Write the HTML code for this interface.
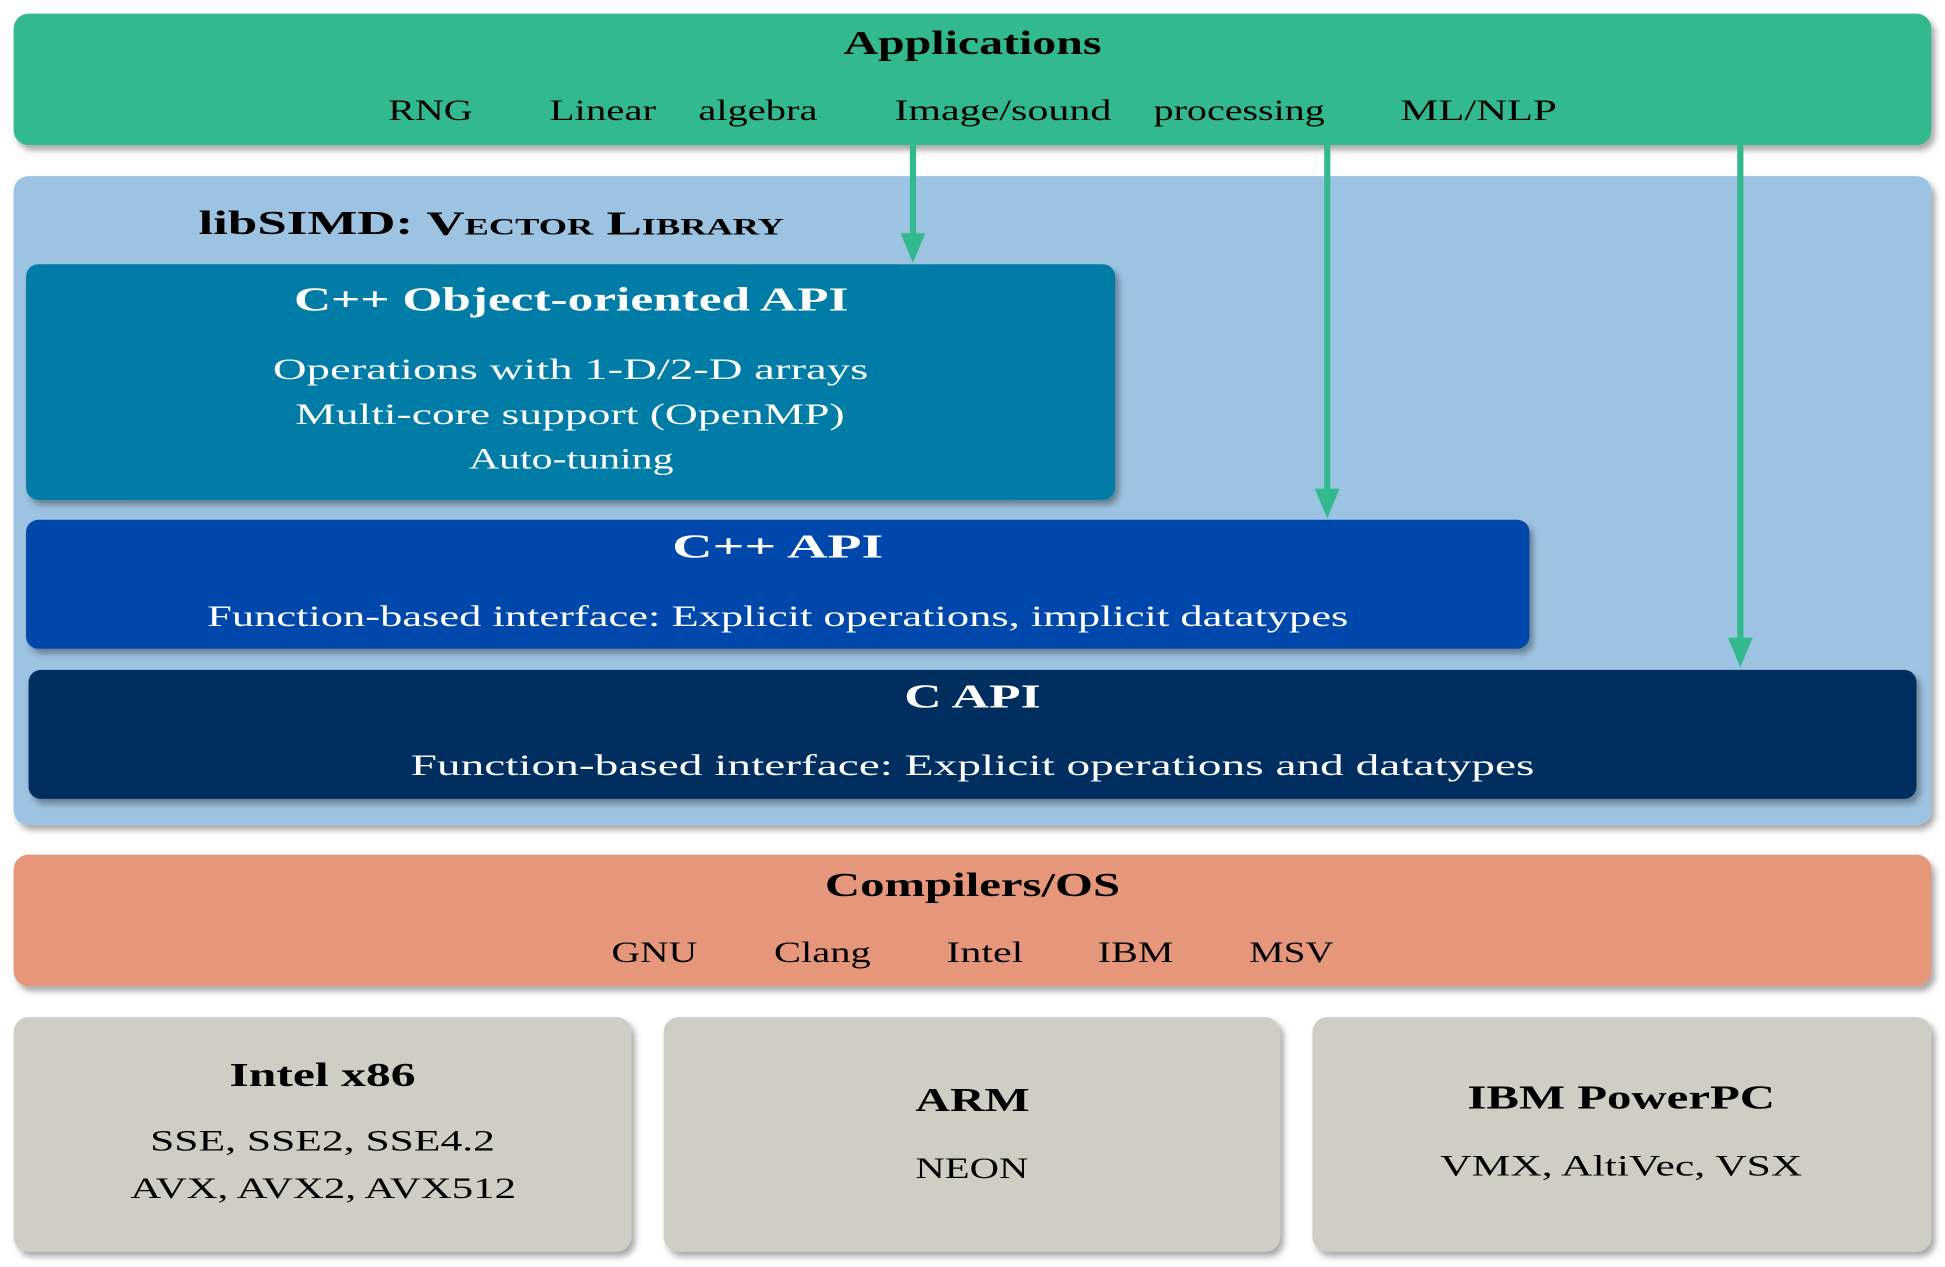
<!DOCTYPE html>
<html><head><meta charset="utf-8"><style>
html,body{margin:0;padding:0;background:#fff;}
svg{display:block;}
text{font-family:"Liberation Serif",serif;dominant-baseline:central;}
.t{font-weight:bold;font-size:27px;}
.b{font-size:24px;}
.w{fill:#fff;}
</style></head><body>
<svg width="1945" height="1267" viewBox="0 0 1568 1021.4" xmlns="http://www.w3.org/2000/svg">
<defs>
<filter id="sh" x="-5%" y="-10%" width="110%" height="130%">
<feDropShadow dx="3" dy="4" stdDeviation="2.5" flood-color="#000" flood-opacity="0.35"/>
</filter>
<marker id="ah" markerWidth="6" markerHeight="6" refX="3" refY="5" orient="auto" markerUnits="userSpaceOnUse" viewBox="0 0 6 6"></marker>
</defs>
<!-- Applications -->
<rect x="11" y="11" width="1546" height="106" rx="12" fill="#32BA8E" filter="url(#sh)"/>
<text class="t" x="680" y="35" textLength="208" lengthAdjust="spacingAndGlyphs">Applications</text>
<text class="b" x="313" y="89" textLength="68" lengthAdjust="spacingAndGlyphs">RNG</text>
<text class="b" x="443" y="89" textLength="86" lengthAdjust="spacingAndGlyphs">Linear</text>
<text class="b" x="563" y="89" textLength="96" lengthAdjust="spacingAndGlyphs">algebra</text>
<text class="b" x="721" y="89" textLength="175" lengthAdjust="spacingAndGlyphs">Image/sound</text>
<text class="b" x="930" y="89" textLength="138" lengthAdjust="spacingAndGlyphs">processing</text>
<text class="b" x="1129" y="89" textLength="126" lengthAdjust="spacingAndGlyphs">ML/NLP</text>
<!-- libSIMD -->
<rect x="11" y="142" width="1546" height="523" rx="12" fill="#9DC3E2" filter="url(#sh)"/>
<text class="t" x="160" y="180" textLength="472" lengthAdjust="spacingAndGlyphs">libSIMD: <tspan font-variant="small-caps">Vector Library</tspan></text>
<!-- arrows -->
<g stroke="#32BA8E" stroke-width="5" fill="#32BA8E">
<line x1="736" y1="117" x2="736" y2="192"/>
<line x1="1070" y1="117" x2="1070" y2="398"/>
<line x1="1403" y1="117" x2="1403" y2="518"/>
</g>
<g fill="#32BA8E">
<polygon points="726,188 746,188 736,212"/>
<polygon points="1060,394 1080,394 1070,418"/>
<polygon points="1393,514 1413,514 1403,538"/>
</g>
<!-- C++ OO -->
<rect x="21" y="213" width="878" height="190" rx="10" fill="#007BA7" filter="url(#sh)"/>
<text class="t w" x="237" y="242" textLength="447" lengthAdjust="spacingAndGlyphs">C++ Object-oriented API</text>
<text class="b w" x="220" y="298" textLength="480" lengthAdjust="spacingAndGlyphs">Operations with 1-D/2-D arrays</text>
<text class="b w" x="238" y="334" textLength="443" lengthAdjust="spacingAndGlyphs">Multi-core support (OpenMP)</text>
<text class="b w" x="378" y="370" textLength="165" lengthAdjust="spacingAndGlyphs">Auto-tuning</text>
<!-- C++ API -->
<rect x="21" y="419" width="1212" height="104" rx="10" fill="#0047AB" filter="url(#sh)"/>
<text class="t w" x="542" y="441" textLength="170" lengthAdjust="spacingAndGlyphs">C++ API</text>
<text class="b w" x="167" y="497" textLength="920" lengthAdjust="spacingAndGlyphs">Function-based interface: Explicit operations, implicit datatypes</text>
<!-- C API -->
<rect x="23" y="540" width="1522" height="104" rx="10" fill="#002E5F" filter="url(#sh)"/>
<text class="t w" x="729" y="562" textLength="110" lengthAdjust="spacingAndGlyphs">C API</text>
<text class="b w" x="331" y="617" textLength="906" lengthAdjust="spacingAndGlyphs">Function-based interface: Explicit operations and datatypes</text>
<!-- Compilers -->
<rect x="11" y="689" width="1546" height="106" rx="12" fill="#E6967A" filter="url(#sh)"/>
<text class="t" x="665" y="714" textLength="238" lengthAdjust="spacingAndGlyphs">Compilers/OS</text>
<text class="b" x="493" y="768" textLength="69" lengthAdjust="spacingAndGlyphs">GNU</text>
<text class="b" x="624" y="768" textLength="78" lengthAdjust="spacingAndGlyphs">Clang</text>
<text class="b" x="763" y="768" textLength="62" lengthAdjust="spacingAndGlyphs">Intel</text>
<text class="b" x="885" y="768" textLength="61" lengthAdjust="spacingAndGlyphs">IBM</text>
<text class="b" x="1007" y="768" textLength="68" lengthAdjust="spacingAndGlyphs">MSV</text>
<!-- Hardware -->
<rect x="11" y="820" width="498" height="189" rx="12" fill="#CECEC4" filter="url(#sh)"/>
<rect x="535" y="820" width="497" height="189" rx="12" fill="#CECEC4" filter="url(#sh)"/>
<rect x="1058" y="820" width="499" height="189" rx="12" fill="#CECEC4" filter="url(#sh)"/>
<text class="t" x="185" y="867" textLength="150" lengthAdjust="spacingAndGlyphs">Intel x86</text>
<text class="b" x="121" y="920" textLength="278" lengthAdjust="spacingAndGlyphs">SSE, SSE2, SSE4.2</text>
<text class="b" x="105" y="958" textLength="311" lengthAdjust="spacingAndGlyphs">AVX, AVX2, AVX512</text>
<text class="t" x="738" y="887" textLength="92" lengthAdjust="spacingAndGlyphs">ARM</text>
<text class="b" x="738" y="942" textLength="91" lengthAdjust="spacingAndGlyphs">NEON</text>
<text class="t" x="1183" y="885" textLength="248" lengthAdjust="spacingAndGlyphs">IBM PowerPC</text>
<text class="b" x="1161" y="940" textLength="292" lengthAdjust="spacingAndGlyphs">VMX, AltiVec, VSX</text>
</svg>
</body></html>
